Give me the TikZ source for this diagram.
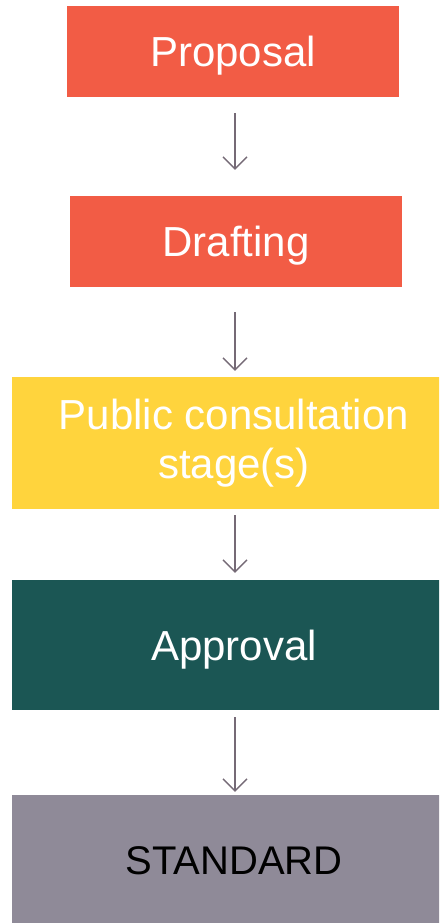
\documentclass[tikz,border=0pt]{standalone}
\usepackage{fontspec}
\setmainfont{Liberation Sans}
\usetikzlibrary{arrows.meta}
\definecolor{cRed}{HTML}{F25C45}
\definecolor{cYel}{HTML}{FFD43D}
\definecolor{cTeal}{HTML}{1B5654}
\definecolor{cGray}{HTML}{8F8A98}
\definecolor{cArr}{HTML}{756A76}
\tikzset{
  stagebox/.style={rectangle, inner sep=0pt, align=center, text=white,
    font=\fontsize{42}{49}\selectfont},
  oneline/.style={text height=30pt, text depth=0pt},
  flowarrow/.style={draw=cArr, line width=1.4pt,
    -{Straight Barb[length=12pt,width=24pt,line width=1.4pt]}}
}
\begin{document}
\begin{tikzpicture}[x=1pt,y=-1pt]
\useasboundingbox (0,0) rectangle (439,923);
\clip (0,0) rectangle (439,923);
\node[stagebox, oneline, fill=cRed, minimum width=332pt, minimum height=91pt] (P) at (233,51.5) {Proposal};
\node[stagebox, oneline, fill=cRed, minimum width=332pt, minimum height=91pt] (D) at (236,241.5) {Drafting};
\node[stagebox, fill=cYel, minimum width=444pt, minimum height=132pt] (C) at (234,443) {Public consultation\\stage(s)};
\node[stagebox, oneline, fill=cTeal, minimum width=444pt, minimum height=130pt] (A) at (234,645) {Approval};
\node[stagebox, text height=28pt, text depth=0pt, fill=cGray, text=black, font=\fontsize{40}{48}\selectfont, minimum width=444pt, minimum height=130pt] (S) at (234,860) {STANDARD};
\coordinate (ax) at (235,0);
\draw[flowarrow, shorten <=16pt, shorten >=26pt] (P.south -| ax) -- (D.north -| ax);
\draw[flowarrow, shorten <=25pt, shorten >=6pt] (D.south -| ax) -- (C.north -| ax);
\draw[flowarrow, shorten <=6pt, shorten >=7pt] (C.south -| ax) -- (A.north -| ax);
\draw[flowarrow, shorten <=7pt, shorten >=3pt] (A.south -| ax) -- (S.north -| ax);
\end{tikzpicture}
\end{document}
